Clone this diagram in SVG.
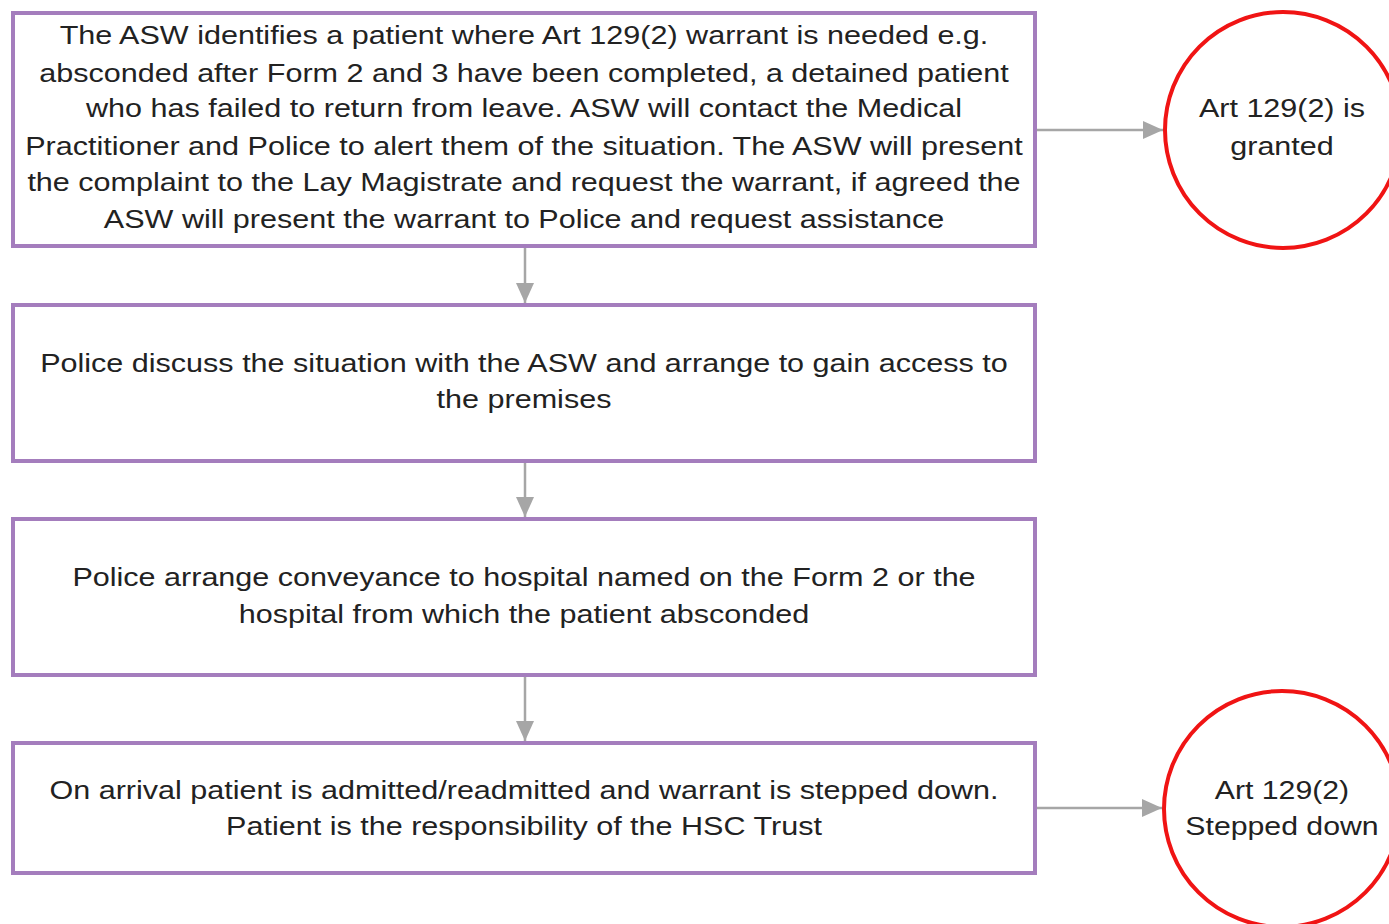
<svg xmlns="http://www.w3.org/2000/svg" width="1389" height="924" viewBox="0 0 1389 924">
<defs>
<style>
.box{fill:#fff;stroke:#a47dbd;stroke-width:4}
.circ{fill:#fff;stroke:#f01414;stroke-width:4}
.t{font-family:"Liberation Sans",Arial,sans-serif;font-size:25px;fill:#222;text-anchor:middle}
.c{stroke:#a6a6a6;stroke-width:2.5;fill:none}
</style>
<marker id="ah" markerWidth="20" markerHeight="20" refX="20" refY="10" orient="auto" markerUnits="userSpaceOnUse" viewBox="0 0 20 20"><path d="M0,1 L20,10 L0,19 Z" fill="#a6a6a6"/></marker>
</defs>
<rect width="1389" height="924" fill="#fff"/>
<g id="connectors">
<line class="c" x1="1037" y1="130" x2="1163" y2="130" marker-end="url(#ah)"/>
<line class="c" x1="525" y1="248" x2="525" y2="303" marker-end="url(#ah)"/>
<line class="c" x1="525" y1="463" x2="525" y2="517" marker-end="url(#ah)"/>
<line class="c" x1="525" y1="677" x2="525" y2="741" marker-end="url(#ah)"/>
<line class="c" x1="1037" y1="808" x2="1162" y2="808" marker-end="url(#ah)"/>
</g>
<g id="node1">
<rect class="box" x="13" y="13" width="1022" height="233"/>
<text class="t" transform="translate(524,0) scale(1.222,1) translate(-524,0)"><tspan x="524" y="44">The ASW identifies a patient where Art 129(2) warrant is needed e.g.</tspan><tspan x="524" y="82">absconded after Form 2 and 3 have been completed, a detained patient</tspan><tspan x="524" y="117">who has failed to return from leave. ASW will contact the Medical</tspan><tspan x="524" y="155">Practitioner and Police to alert them of the situation. The ASW will present</tspan><tspan x="524" y="191">the complaint to the Lay Magistrate and request the warrant, if agreed the</tspan><tspan x="524" y="228">ASW will present the warrant to Police and request assistance</tspan></text>
</g>
<g id="node2">
<rect class="box" x="13" y="305" width="1022" height="156"/>
<text class="t" transform="translate(524,0) scale(1.222,1) translate(-524,0)"><tspan x="524" y="372">Police discuss the situation with the ASW and arrange to gain access to</tspan><tspan x="524" y="408">the premises</tspan></text>
</g>
<g id="node3">
<rect class="box" x="13" y="519" width="1022" height="156"/>
<text class="t" transform="translate(524,0) scale(1.222,1) translate(-524,0)"><tspan x="524" y="586">Police arrange conveyance to hospital named on the Form 2 or the</tspan><tspan x="524" y="623">hospital from which the patient absconded</tspan></text>
</g>
<g id="node4">
<rect class="box" x="13" y="743" width="1022" height="130"/>
<text class="t" transform="translate(524,0) scale(1.222,1) translate(-524,0)"><tspan x="524" y="799">On arrival patient is admitted/readmitted and warrant is stepped down.</tspan><tspan x="524" y="835">Patient is the responsibility of the HSC Trust</tspan></text>
</g>
<g id="circle1">
<circle class="circ" cx="1283" cy="130" r="118"/>
<text class="t" transform="translate(1282,0) scale(1.22,1) translate(-1282,0)"><tspan x="1282" y="117">Art 129(2) is</tspan><tspan x="1282" y="155">granted</tspan></text>
</g>
<g id="circle2">
<circle class="circ" cx="1282" cy="809" r="118"/>
<text class="t" transform="translate(1282,0) scale(1.21,1) translate(-1282,0)"><tspan x="1282" y="799">Art 129(2)</tspan><tspan x="1282" y="835">Stepped down</tspan></text>
</g>
</svg>
